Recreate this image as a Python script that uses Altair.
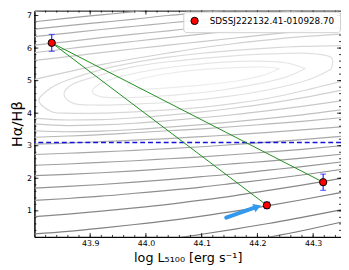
import altair as alt
import pandas as pd

# ---------------- values ----------------
PT_NAME = "SDSSJ222132.41-010928.70"
PT_X = [43.831, 44.217, 44.318]
PT_Y = [6.16, 1.17, 1.88]
PT_ERR = [0.26, 0.10, 0.25]

CASE_B = 3.1

ARROW_X = [44.144, 44.195]
ARROW_Y = [0.79, 1.10]
HEAD_X = [44.200]
HEAD_Y = [1.127]

XMAJ = [43.9, 44.0, 44.1, 44.2, 44.3]
YMAJ = [1, 2, 3, 4, 5, 6, 7]
XMIN = [round(43.80 + 0.02 * i, 2) for i in range(1, 28)]
YMIN = [round(0.2 * i, 1) for i in range(2, 36)]

# contour lines (grey background), sampled at these x columns
XCOLS = [43.80, 43.86, 43.92, 43.98, 44.04, 44.10, 44.16, 44.22, 44.28, 44.35]

lo_A = [-0.80, -0.71, -0.60, -0.47, -0.33, -0.17, 0.00, 0.19, 0.39, 0.65]
lo_B = [-0.30, -0.21, -0.11, 0.00, 0.13, 0.28, 0.44, 0.61, 0.80, 1.03]
lo_1 = [0.29, 0.37, 0.47, 0.58, 0.70, 0.84, 0.99, 1.16, 1.34, 1.56]
lo_2 = [0.82, 0.90, 0.99, 1.09, 1.20, 1.33, 1.47, 1.63, 1.79, 2.00]
lo_3 = [1.32, 1.38, 1.45, 1.54, 1.63, 1.73, 1.85, 1.97, 2.10, 2.27]
lo_4 = [1.70, 1.75, 1.81, 1.88, 1.96, 2.05, 2.14, 2.25, 2.36, 2.50]
lo_5 = [2.08, 2.12, 2.17, 2.23, 2.30, 2.37, 2.45, 2.53, 2.62, 2.74]
lo_6 = [2.40, 2.44, 2.49, 2.54, 2.60, 2.66, 2.73, 2.81, 2.89, 3.00]
lo_7 = [2.73, 2.77, 2.81, 2.86, 2.91, 2.97, 3.04, 3.11, 3.19, 3.29]
lo_8 = [3.05, 3.08, 3.13, 3.17, 3.22, 3.28, 3.34, 3.41, 3.49, 3.58]
lo_9 = [3.26, 3.30, 3.34, 3.40, 3.46, 3.52, 3.59, 3.67, 3.75, 3.86]
lo_10 = [3.46, 3.43, 3.45, 3.50, 3.57, 3.65, 3.74, 3.84, 3.95, 4.10]
lo_11 = [3.67, 3.62, 3.64, 3.69, 3.77, 3.86, 3.96, 4.08, 4.21, 4.38]
lo_12 = [3.85, 3.79, 3.80, 3.86, 3.94, 4.04, 4.16, 4.30, 4.47, 4.70]

up_5 = [7.13, 7.24, 7.34, 7.44, 7.54, 7.63, 7.73, 7.82, 7.91, 8.02]
up_6 = [6.81, 6.92, 7.02, 7.12, 7.23, 7.32, 7.42, 7.51, 7.61, 7.71]
up_7 = [6.58, 6.69, 6.79, 6.89, 7.00, 7.09, 7.19, 7.28, 7.38, 7.48]
up_8 = [6.35, 6.46, 6.57, 6.67, 6.77, 6.87, 6.97, 7.07, 7.16, 7.27]
up_9 = [6.09, 6.20, 6.32, 6.43, 6.53, 6.64, 6.74, 6.84, 6.94, 7.05]
up_10 = [5.86, 5.98, 6.10, 6.21, 6.32, 6.43, 6.54, 6.64, 6.74, 6.86]
up_11 = [5.62, 5.74, 5.86, 5.98, 6.09, 6.20, 6.31, 6.42, 6.52, 6.64]
up_12 = [5.04, 5.27, 5.49, 5.68, 5.85, 6.01, 6.14, 6.25, 6.35, 6.43]

# inner (closed) contours
e1_x = [44.24, 44.21, 44.16, 44.10, 44.04, 43.99, 43.967, 43.99, 44.04, 44.10, 44.16, 44.21, 44.24]
e1_y = [5.37, 5.42, 5.40, 5.34, 5.22, 5.05, 4.88, 4.74, 4.78, 4.86, 4.98, 5.16, 5.37]
e2_x = [44.286, 44.25, 44.20, 44.14, 44.08, 44.02, 43.96, 43.92, 43.904, 43.92, 43.96, 44.02,
        44.08, 44.14, 44.20, 44.25, 44.286]
e2_y = [5.37, 5.55, 5.60, 5.57, 5.48, 5.35, 5.15, 4.92, 4.68, 4.50, 4.48, 4.52,
        4.60, 4.72, 4.90, 5.10, 5.37]
e3_x = [44.332, 44.332, 44.29, 44.22, 44.14, 44.04, 43.97, 43.92, 43.87, 43.853, 43.87, 43.91,
        43.98, 44.06, 44.14, 44.22, 44.29, 44.332]
e3_y = [5.35, 5.72, 5.84, 5.82, 5.74, 5.58, 5.40, 5.18, 4.90, 4.58, 4.30, 4.25,
        4.28, 4.36, 4.50, 4.72, 5.02, 5.35]
e4_x = [44.36, 44.28, 44.22, 44.16, 44.10, 44.04, 43.98, 43.92, 43.86, 43.83, 43.808, 43.83,
        43.86, 43.92, 43.98, 44.04, 44.10, 44.16, 44.22, 44.28, 44.36]
e4_y = [6.08, 6.05, 6.00, 5.93, 5.84, 5.72, 5.56, 5.34, 5.02, 4.78, 4.40, 4.05,
        4.00, 4.00, 4.04, 4.10, 4.18, 4.30, 4.46, 4.68, 5.02]

# ---------------- tables built from the arrays ----------------
OPEN = [
    ("A", lo_A, "#7a7a7a"), ("B", lo_B, "#7e7e7e"), ("c1", lo_1, "#828282"),
    ("c2", lo_2, "#888888"), ("c3", lo_3, "#8e8e8e"), ("c4", lo_4, "#949494"),
    ("c5", lo_5, "#9a9a9a"), ("c6", lo_6, "#a0a0a0"), ("c7", lo_7, "#a8a8a8"),
    ("c8", lo_8, "#b0b0b0"), ("c9", lo_9, "#b8b8b8"), ("c10", lo_10, "#c0c0c0"),
    ("c11", lo_11, "#c8c8c8"), ("c12", lo_12, "#d0d0d0"),
    ("u5", up_5, "#9a9a9a"), ("u6", up_6, "#a0a0a0"), ("u7", up_7, "#a8a8a8"),
    ("u8", up_8, "#b0b0b0"), ("u9", up_9, "#b8b8b8"), ("u10", up_10, "#c0c0c0"),
    ("u11", up_11, "#c8c8c8"), ("u12", up_12, "#d0d0d0"),
]
CLOSED = [
    ("e1", e1_x, e1_y, "#ececec"), ("e2", e2_x, e2_y, "#e6e6e6"),
    ("e3", e3_x, e3_y, "#e0e0e0"), ("e4", e4_x, e4_y, "#d8d8d8"),
]

rows = []
for cid, ys_, col in OPEN:
    for xv, yv in zip(XCOLS, ys_):
        rows.append({"cid": cid, "x": xv, "y": yv, "col": col})
df_open = pd.DataFrame(rows)

rows = []
for cid, xs_, ys_, col in CLOSED:
    for i, (xv, yv) in enumerate(zip(xs_, ys_)):
        rows.append({"cid": cid, "ord": i, "x": xv, "y": yv, "col": col})
df_closed = pd.DataFrame(rows)

df_pts = pd.DataFrame({
    "x": PT_X, "y": PT_Y,
    "lo": [v - e for v, e in zip(PT_Y, PT_ERR)],
    "hi": [v + e for v, e in zip(PT_Y, PT_ERR)],
    "name": [PT_NAME] * len(PT_X),
})
df_seg = pd.DataFrame({
    "x": [PT_X[0], PT_X[0]], "y": [PT_Y[0], PT_Y[0]],
    "x2": [PT_X[1], PT_X[2]], "y2": [PT_Y[1], PT_Y[2]],
})
df_arrow = pd.DataFrame({"x": [ARROW_X[0]], "y": [ARROW_Y[0]],
                         "x2": [ARROW_X[1]], "y2": [ARROW_Y[1]]})
df_head = pd.DataFrame({"x": HEAD_X, "y": HEAD_Y})

# ---------------- chart ----------------
PAD_L = 27
PLOT_W, PLOT_H = 313, 231
FONT = "DejaVu Sans"

xs = alt.Scale(domain=[43.8, 44.35], nice=False, zero=False)
ys = alt.Scale(domain=[0.2, 7.15], nice=False, zero=False)
xaxis = alt.Axis(values=XMAJ, format=".1f", title="log L\u2085\u2081\u2080\u2080 [erg s\u207b\u00b9]",
                 ticks=False, grid=False, labelFontSize=8, labelPadding=3,
                 titleFontSize=13, titlePadding=4, titleFontWeight="normal",
                 labelColor="black", titleColor="black", domainColor="black")
yaxis = alt.Axis(values=YMAJ, format="d", title="H\u03b1/H\u03b2",
                 ticks=False, grid=False, labelFontSize=8, labelPadding=3,
                 titleFontSize=15, titlePadding=2, titleFontWeight="normal",
                 labelColor="black", titleColor="black", domainColor="black")


def X(f):
    return alt.X(f"{f}:Q", scale=xs, axis=xaxis)


def Y(f):
    return alt.Y(f"{f}:Q", scale=ys, axis=yaxis)


open_layer = alt.Chart(df_open).mark_line(interpolate="monotone", clip=True, strokeWidth=1.2).encode(
    x=X("x"), y=Y("y"), detail="cid:N", stroke=alt.Stroke("col:N", scale=None))
closed_layer = alt.Chart(df_closed).mark_line(interpolate="cardinal", clip=True, strokeWidth=1.2).encode(
    x=X("x"), y=Y("y"), order="ord:Q", detail="cid:N", stroke=alt.Stroke("col:N", scale=None))

dashed = alt.Chart(pd.DataFrame({"y": [CASE_B]})).mark_rule(
    color="#1414d8", strokeWidth=1.5, strokeDash=[5, 3]).encode(y=Y("y"))

segs = alt.Chart(df_seg).mark_rule(color="#1e8c1e", strokeWidth=1).encode(
    x=X("x"), y=Y("y"), x2="x2:Q", y2="y2:Q")

shaft = alt.Chart(df_arrow).mark_rule(color="#3399ee", strokeWidth=4, strokeCap="round").encode(
    x=X("x"), y=Y("y"), x2="x2:Q", y2="y2:Q")
head = alt.Chart(df_head).mark_point(shape="triangle-right", filled=True, size=80, angle=340,
                                     color="#3399ee", opacity=1).encode(x=X("x"), y=Y("y"))

err = alt.Chart(df_pts).mark_rule(color="#2a2aff", strokeWidth=1.2).encode(
    x=X("x"), y=Y("lo"), y2="hi:Q")
cap_lo = alt.Chart(df_pts).mark_tick(orient="horizontal", size=6, thickness=1.2, color="#2a2aff").encode(
    x=X("x"), y=Y("lo"))
cap_hi = alt.Chart(df_pts).mark_tick(orient="horizontal", size=6, thickness=1.2, color="#2a2aff").encode(
    x=X("x"), y=Y("hi"))

pts = alt.Chart(df_pts).mark_circle(size=55, opacity=1, stroke="black", strokeWidth=1).encode(
    x=X("x"), y=Y("y"),
    color=alt.Color("name:N", scale=alt.Scale(domain=[PT_NAME], range=["#ff0000"]),
                    legend=alt.Legend(title=None, orient="top-right", offset=1, padding=5,
                                      fillColor="rgba(255,255,255,0.9)", strokeColor="#d0d0d0",
                                      cornerRadius=3, labelFontSize=9, labelFont=FONT,
                                      labelColor="black", labelLimit=400, symbolSize=55,
                                      symbolStrokeColor="black", symbolStrokeWidth=1,
                                      symbolOffset=2, labelOffset=11)))


def xticks(vals, length):
    d = pd.DataFrame({"v": vals})
    bot = alt.Chart(d).mark_rule(color="black", strokeWidth=0.8).encode(
        x=X("v"), y=alt.value(PLOT_H), y2=alt.value(PLOT_H - length))
    top = alt.Chart(d).mark_rule(color="black", strokeWidth=0.8).encode(
        x=X("v"), y=alt.value(0), y2=alt.value(length))
    return [bot, top]


def yticks(vals, length):
    d = pd.DataFrame({"v": vals})
    lef = alt.Chart(d).mark_rule(color="black", strokeWidth=0.8).encode(
        y=Y("v"), x=alt.value(0), x2=alt.value(length))
    rig = alt.Chart(d).mark_rule(color="black", strokeWidth=0.8).encode(
        y=Y("v"), x=alt.value(PLOT_W), x2=alt.value(PLOT_W - length))
    return [lef, rig]


tick_layers = xticks(XMIN, 2) + xticks(XMAJ, 4) + yticks(YMIN, 2) + yticks(YMAJ, 4)

chart = alt.layer(
    open_layer, closed_layer, dashed, segs, shaft, head, err, cap_lo, cap_hi, pts, *tick_layers
).properties(
    width=PLOT_W, height=PLOT_H,
    autosize=alt.AutoSizeParams(type="none"),
    padding={"left": PAD_L, "top": 0, "right": 0, "bottom": 26},
).configure_view(
    stroke="black", strokeWidth=1
).configure_axis(
    labelFont=FONT, titleFont=FONT
)

chart.save("out.html", embed_options={"renderer": "svg", "actions": False})
